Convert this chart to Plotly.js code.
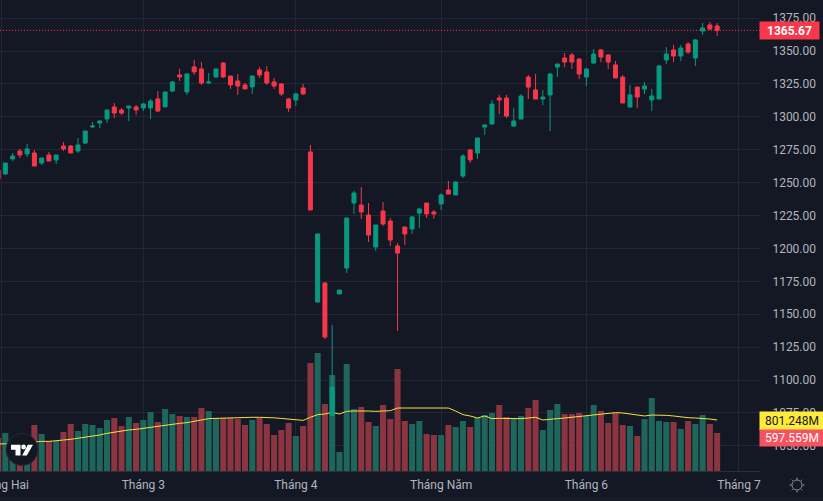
<!DOCTYPE html>
<html><head><meta charset="utf-8">
<script src="https://cdn.plot.ly/plotly-3.0.1.min.js"></script>
<style>html,body{margin:0;padding:0;background:#141824;overflow:hidden}#wrap{position:relative;width:823px;height:501px}#chart{position:absolute;left:0;top:0;width:823px;height:501px}svg.ov{position:absolute}.boxlayer path{stroke-linejoin:miter !important}</style>
</head><body><div id="wrap"><div id="chart"></div>
<svg class="ov" style="left:0;top:428px" width="45" height="42" viewBox="0 0 45 42"><circle cx="22" cy="21.5" r="16" fill="#131722" stroke="#252935" stroke-width="1"/><path d="M11 16.7H20.5V27.5H15.5V21.7H11Z" fill="#fff"/><circle cx="23.6" cy="19" r="2.4" fill="#fff"/><path d="M27.8 16.7H33L26.8 27.5H22.2Z" fill="#fff"/></svg>
<svg class="ov" style="left:787px;top:475px" width="20" height="20" viewBox="0 0 20 20" fill="none" stroke="#868993" stroke-width="1"><circle cx="10" cy="10" r="5"/><path d="M10 2.5V5M10 15V17.5M2.5 10H5M15 10H17.5M4.7 4.7L6.4 6.4M13.6 13.6L15.3 15.3M4.7 15.3L6.4 13.6M13.6 6.4L15.3 4.7"/></svg>
</div>
<script>
const opens=[1259.6,1256.6,1268.0,1274.0,1271.8,1272.5,1264.9,1271.0,1267.2,1277.8,1277.8,1274.0,1280.1,1292.3,1295.3,1298.4,1307.5,1305.2,1306.7,1307.5,1306.7,1306.7,1313.6,1307.5,1319.6,1331.8,1318.9,1337.9,1336.4,1325.7,1330.3,1340.9,1331.0,1327.2,1324.2,1322.7,1335.6,1334.1,1326.5,1325.0,1313.6,1312.8,1321.9,1273.3,1159.3,1173.7,1073.0,1165.4,1185.1,1234.5,1233.0,1225.4,1201.1,1228.4,1220.8,1201.9,1216.3,1214.8,1226.9,1234.5,1227.7,1233.8,1244.4,1240.6,1255.0,1274.8,1272.5,1292.2,1294.5,1314.3,1314.3,1293.0,1298.3,1330.2,1320.4,1313.5,1316.6,1337.8,1344.7,1347.0,1343.9,1330.2,1340.9,1350.8,1347.0,1339.4,1330.2,1307.4,1322.6,1321.1,1312.8,1313.5,1343.2,1350.8,1346.2,1355.3,1344.7,1365.2,1369.8,1369.0];
const highs=[1260.5,1264.9,1272.5,1275.6,1279.4,1274.8,1268.7,1273.3,1271.0,1280.9,1278.6,1283.9,1289.2,1296.1,1297.6,1305.2,1310.5,1306.7,1308.2,1309.0,1310.5,1313.6,1319.6,1318.9,1327.2,1336.4,1332.6,1343.2,1341.7,1333.3,1336.4,1341.7,1331.0,1332.6,1325.7,1331.0,1337.9,1338.6,1329.5,1325.7,1314.3,1318.1,1325.0,1278.6,1211.0,1174.5,1141.8,1168.4,1223.1,1243.6,1246.7,1234.5,1217.8,1235.3,1223.1,1204.1,1216.3,1224.6,1230.7,1234.5,1229.2,1242.1,1251.2,1251.2,1271.7,1275.5,1283.9,1294.5,1312.8,1316.6,1316.6,1306.7,1317.3,1331.8,1332.5,1320.4,1333.3,1340.1,1348.5,1348.5,1344.7,1337.1,1351.5,1351.5,1347.7,1342.4,1331.8,1324.2,1322.6,1326.4,1321.1,1339.4,1353.0,1354.6,1354.6,1356.8,1359.1,1371.3,1372.0,1371.3];
const lows=[1251.5,1255.8,1266.4,1268.7,1269.5,1262.6,1263.4,1266.4,1264.2,1274.0,1272.5,1272.5,1279.4,1291.5,1291.5,1295.3,1299.1,1301.4,1296.8,1301.4,1304.4,1298.4,1303.7,1307.5,1318.9,1327.2,1316.6,1331.8,1324.2,1325.0,1329.5,1329.5,1321.2,1316.6,1321.2,1317.4,1329.5,1324.2,1321.2,1315.8,1303.7,1308.2,1316.6,1229.2,1158.5,1131.2,1073.0,1165.4,1181.3,1226.2,1222.4,1204.9,1198.1,1217.1,1201.9,1137.3,1202.6,1211.0,1215.5,1223.1,1222.4,1229.2,1241.3,1240.6,1253.5,1264.9,1267.9,1286.2,1294.5,1302.1,1299.1,1292.2,1298.3,1313.5,1313.5,1309.0,1289.2,1330.2,1337.8,1336.3,1328.7,1323.4,1340.1,1341.6,1336.3,1329.5,1310.5,1307.4,1306.7,1317.3,1304.4,1313.5,1340.1,1341.6,1342.4,1347.7,1338.6,1362.2,1366.0,1361.4];
const closes=[1252.8,1264.9,1270.2,1271.0,1275.6,1262.6,1268.7,1266.4,1271.0,1275.6,1272.5,1278.6,1289.2,1293.0,1296.8,1305.2,1302.9,1302.9,1308.2,1305.2,1309.8,1312.0,1304.4,1318.9,1326.5,1330.3,1332.6,1334.1,1325.7,1326.5,1336.4,1330.3,1324.2,1323.4,1321.2,1331.0,1331.8,1325.7,1323.4,1317.4,1306.7,1317.4,1317.4,1229.2,1211.0,1132.7,1094.6,1168.4,1223.1,1242.1,1227.7,1210.2,1217.8,1218.6,1206.4,1196.5,1211.0,1223.9,1230.0,1226.2,1226.2,1240.6,1241.3,1250.4,1270.2,1267.2,1283.9,1293.8,1309.7,1312.8,1300.6,1296.8,1315.8,1322.6,1313.5,1315.0,1332.5,1340.1,1341.6,1341.6,1332.5,1336.3,1347.7,1345.4,1341.6,1329.5,1310.5,1316.6,1315.0,1323.4,1315.8,1338.6,1347.7,1346.2,1352.3,1349.2,1358.4,1367.5,1366.7,1365.67];
const volumes=[519,597,445,314,419,723,582,472,472,613,739,629,739,723,676,802,833,707,849,755,802,927,770,975,896,865,849,849,990,943,833,833,833,817,723,802,833,739,566,645,755,550,707,1698,1855,1053,1509,299,1682,975,1006,770,707,1038,817,1603,786,739,786,582,566,566,723,692,786,692,833,880,912,1038,849,817,865,990,1116,645,959,1053,896,896,912,865,1038,943,755,912,723,707,550,817,1148,786,770,770,660,786,739,880,739,597.559];
const volumeMA=[424,424,430,435,445,461,466,466,472,487,498,513,529,550,566,592,613,629,645,655,671,686,707,728,739,749,760,781,807,823,828,833,838,844,844,844,844,844,836,826,817,802,796,844,886,896,922,896,938,943,948,943,938,943,948,990,990,990,1001,996,990,990,990,943,886,865,833,865,823,828,823,823,823,833,844,802,807,823,833,844,854,865,880,896,907,917,912,896,880,865,880,880,875,865,849,838,833,828,817,801.248];
const priceTicks=[1050,1075,1100,1125,1150,1175,1200,1225,1250,1275,1300,1325,1350,1375];
const monthPositions=[-0.5,19,40,60,80,101];
const monthLabels=["Tháng Hai","Tháng 3","Tháng 4","Tháng Năm","Tháng 6","Tháng 7"];
const lastPrice=1365.67, lastVolume=597.559, lastMA=801.248;

const RED="#f7374a", GREEN="#089981", BG="#141824", GRID="#232733", TXT="#b2b5be";
const idx=opens.map((_,i)=>i-1);
const volColors=opens.map((o,i)=>closes[i]>=o?"#1e665c":"#8b3540");
const data=[
 {type:"bar",x:idx,y:volumes,marker:{color:volColors,line:{width:0}},xaxis:"x",yaxis:"y",hoverinfo:"skip"},
 {type:"scatter",mode:"lines",x:idx.slice(),y:volumeMA,line:{color:"#f5e142",width:1},xaxis:"x",yaxis:"y",hoverinfo:"skip"},
 {type:"candlestick",x:idx.slice(),open:opens,high:highs,low:lows,close:closes,xaxis:"x",yaxis:"y2",
  increasing:{line:{color:GREEN,width:1},fillcolor:GREEN},decreasing:{line:{color:RED,width:1},fillcolor:RED},hoverinfo:"skip"}
];
const f={family:"Roboto, 'Liberation Sans', sans-serif",size:12,color:TXT};
const layout={
 width:823,height:501,margin:{l:0,r:63,t:0,b:30,pad:0},paper_bgcolor:BG,plot_bgcolor:BG,showlegend:false,
 bargap:0.17,boxgap:0.45,boxgroupgap:0,
 xaxis:{type:"linear",range:[-0.734,103.9],tickmode:"array",tickvals:monthPositions,ticktext:monthLabels,tickfont:f,
  showgrid:true,gridcolor:GRID,gridwidth:1,zeroline:false,showline:true,linecolor:"#2a2e39",linewidth:1,ticks:"",rangeslider:{visible:false},ticklabelstandoff:3,ticklabeloverflow:"allow"},
 yaxis:{range:[0,7404],visible:false,showgrid:false,zeroline:false,fixedrange:true},
 yaxis2:{range:[1030.9,1388.75],overlaying:"y",side:"right",tickmode:"array",tickvals:priceTicks,tickformat:".2f",tickfont:f,
  showgrid:true,gridcolor:GRID,gridwidth:1,zeroline:false,ticks:"outside",ticklen:9,tickcolor:"rgba(0,0,0,0)",showline:false},
 shapes:[{type:"line",xref:"paper",x0:0,x1:1,yref:"y2",y0:lastPrice,y1:lastPrice,line:{color:RED,width:1,dash:"1px,2px"}},
  {type:"line",xref:"paper",x0:0,x1:1.083,yref:"paper",y0:-0.0594,y1:-0.0594,line:{color:"#1f2430",width:1}}],
 annotations:[
  {xref:"paper",x:1,xanchor:"left",xshift:-1,yref:"y2",y:lastPrice,yanchor:"middle",text:lastPrice.toFixed(2),showarrow:false,bgcolor:RED,width:57,height:15,borderpad:1,
   font:{family:f.family,size:12,color:"#fff",weight:"bold"}},
  {xref:"paper",x:1,xanchor:"left",xshift:-1,yref:"y",y:lastMA,yanchor:"middle",yshift:-1,text:lastMA.toFixed(3)+"M",showarrow:false,bgcolor:"#ffeb3b",width:62,height:16,borderpad:1,
   font:{family:f.family,size:12,color:"#131722"}},
  {xref:"paper",x:1,xanchor:"left",xshift:-1,yref:"y",y:lastVolume,yanchor:"middle",yshift:-4.7,text:lastVolume.toFixed(3)+"M",showarrow:false,bgcolor:"#f7525f",width:62,height:14,borderpad:1,
   font:{family:f.family,size:12,color:"#fff"}}
 ]
};
Plotly.newPlot("chart",data,layout,{displayModeBar:false,staticPlot:true});
</script></body></html>
